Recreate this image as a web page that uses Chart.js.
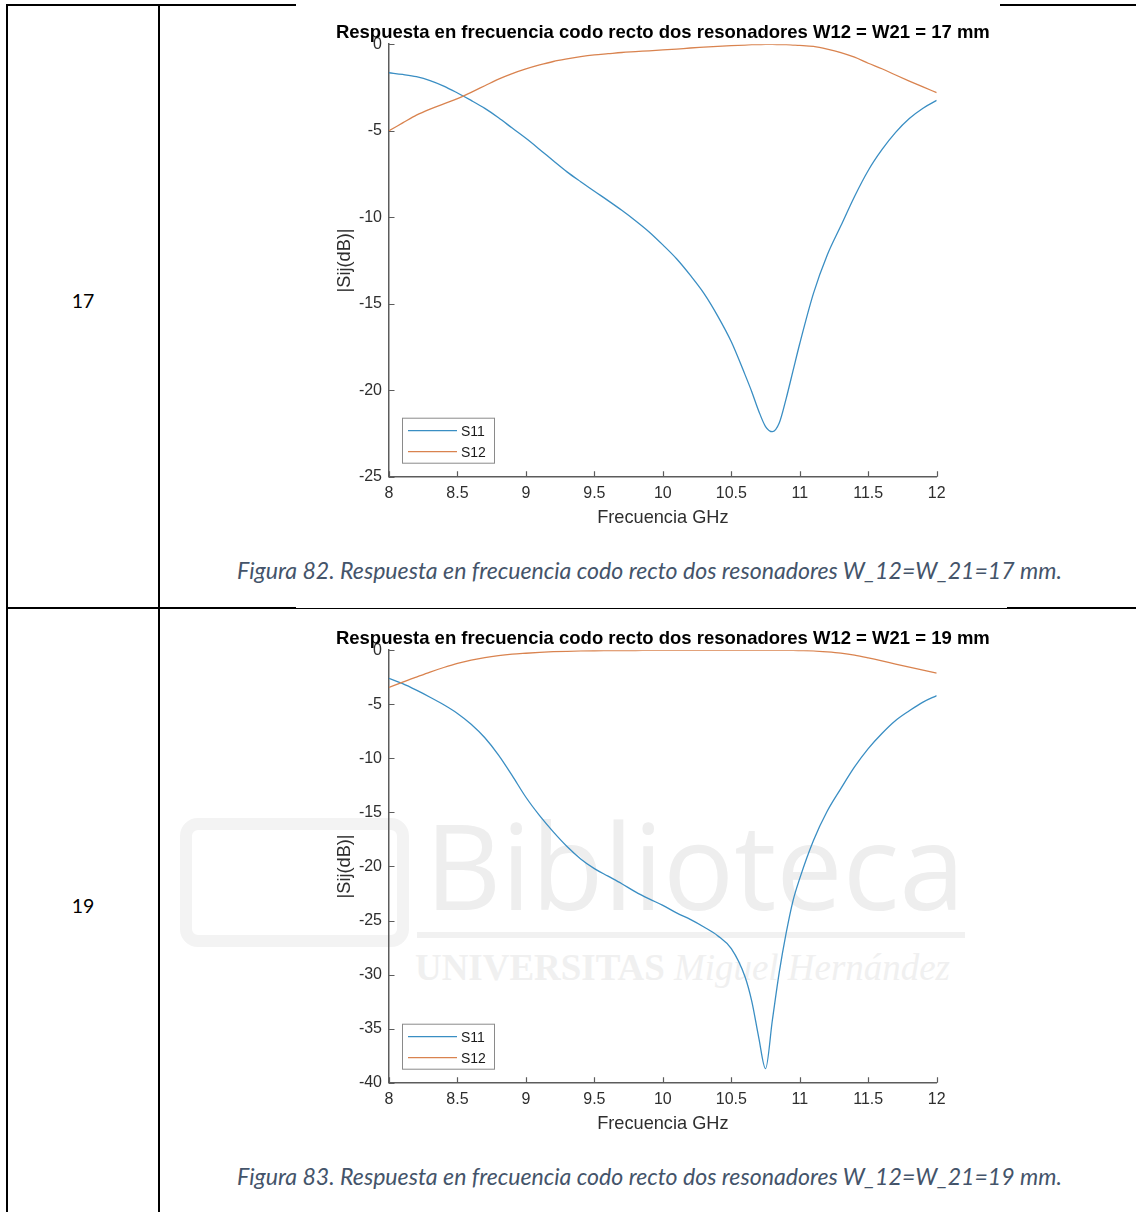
<!DOCTYPE html>
<html>
<head>
<meta charset="utf-8">
<script src="https://cdn.jsdelivr.net/npm/chart.js@4.4.0/dist/chart.umd.min.js"></script>
<style>
  html, body { margin: 0; padding: 0; background: #fff; }
  body { position: relative; width: 1136px; height: 1212px; overflow: hidden; font-family: Lato, "Open Sans", sans-serif; }
  .rule { position: absolute; background: #000; }
  .num { position: absolute; font-size: 19.5px; color: #000; transform: translate(-50%, -50%); }
  .caption { position: absolute; font-style: italic; font-size: 18px; color: #44546a; white-space: nowrap; transform: translate(-50%, -50%); }
  .wm { position: absolute; white-space: nowrap; line-height: 1; }
  canvas { position: absolute; left: 300px; }
</style>
</head>
<body>

<!-- table rules -->
<div class="rule" style="left:6px; top:4px; width:2px; height:1208px"></div>
<div class="rule" style="left:158px; top:4px; width:2px; height:1208px"></div>
<div class="rule" style="left:6px; top:4px; width:290px; height:2px"></div>
<div class="rule" style="left:1000px; top:4px; width:136px; height:2px"></div>
<div class="rule" style="left:6px; top:607px; width:290px; height:2px"></div>
<div class="rule" style="left:296px; top:608px; width:711px; height:1px"></div>
<div class="rule" style="left:1007px; top:607px; width:129px; height:2px"></div>

<div class="num" style="left:83px; top:300px">17</div>
<div class="num" style="left:83px; top:905px">19</div>

<!-- faint library watermark behind the second figure -->
<div class="wm" style="left:180px; top:818px; width:205px; height:105px; border:12px solid #f3f3f3; border-radius:18px;"></div>
<div class="wm" id="wmBig" style="left:425px; top:806px; font-family:'Open Sans'; font-size:118px; color:#eeeeee;">Biblioteca</div>
<div class="wm" style="left:417px; top:932px; width:548px; height:6px; background:#f1f1f1;"></div>
<div class="wm" id="wmSmall" style="left:415px; top:950px; font-family:'Liberation Serif'; font-size:32px; color:#f0f0f0;"><b>UNIVERSITAS</b> <i>Miguel Hernández</i></div>

<canvas id="chart17" width="720" height="540" style="top:10px"></canvas>
<canvas id="chart19" width="720" height="540" style="top:616px"></canvas>

<div class="caption" id="cap17" style="left:649.5px; top:570px">Figura 82. Respuesta en frecuencia codo recto dos resonadores W_12=W_21=17 mm.</div>
<div class="caption" id="cap19" style="left:649.5px; top:1176px">Figura 83. Respuesta en frecuencia codo recto dos resonadores W_12=W_21=19 mm.</div>

<script>
// frequency grid (GHz), denser around the resonance
const freq = [8.0, 8.1, 8.2, 8.3, 8.4, 8.5, 8.6, 8.7, 8.8, 8.9,
    9.0, 9.1, 9.2, 9.3, 9.4, 9.5, 9.6, 9.7, 9.8, 9.9,
    10.0, 10.1, 10.2, 10.3, 10.4, 10.5, 10.6, 10.65, 10.7, 10.75,
    10.8, 10.85, 10.9, 10.95, 11.0, 11.1, 11.2, 11.3, 11.4, 11.5,
    11.6, 11.7, 11.8, 11.9, 12.0];

// W12 = W21 = 17 mm
const s11W17 = [-1.65, -1.75, -1.88, -2.1, -2.42, -2.82, -3.25, -3.71, -4.25, -4.85,
    -5.44, -6.08, -6.74, -7.38, -7.95, -8.5, -9.04, -9.6, -10.2, -10.85,
    -11.6, -12.4, -13.35, -14.4, -15.7, -17.2, -19.1, -20.1, -21.2, -22.1,
    -22.4, -21.9, -20.5, -18.9, -17.3, -14.4, -12.2, -10.5, -8.8, -7.3,
    -6.1, -5.1, -4.3, -3.7, -3.25];
const s12W17 = [-5.0, -4.55, -4.1, -3.75, -3.45, -3.15, -2.78, -2.4, -2.02, -1.7,
    -1.43, -1.2, -1.0, -0.85, -0.72, -0.62, -0.55, -0.48, -0.43, -0.38,
    -0.33, -0.28, -0.22, -0.17, -0.12, -0.08, -0.05, -0.03, -0.02, -0.01,
    -0.01, -0.02, -0.03, -0.05, -0.07, -0.13, -0.28, -0.48, -0.75, -1.1,
    -1.42, -1.78, -2.13, -2.47, -2.8];

// W12 = W21 = 19 mm
const s11W19 = [-2.6, -3.1, -3.7, -4.35, -5.05, -5.85, -6.85, -8.1, -9.7, -11.6,
    -13.6, -15.3, -16.8, -18.15, -19.3, -20.2, -20.9, -21.6, -22.35, -23.0,
    -23.6, -24.3, -24.9, -25.6, -26.4, -27.6, -30.2, -32.5, -35.8, -38.7,
    -34.2, -29.8, -26.2, -23.2, -21.1, -17.6, -14.9, -12.8, -10.8, -9.1,
    -7.7, -6.5, -5.6, -4.8, -4.2];
const s12W19 = [-3.45, -2.95, -2.48, -2.02, -1.6, -1.22, -0.92, -0.68, -0.5, -0.37,
    -0.28, -0.2, -0.14, -0.1, -0.07, -0.05, -0.04, -0.03, -0.03, -0.02,
    -0.02, -0.02, -0.01, -0.01, -0.01, -0.01, -0.01, -0.01, -0.01, -0.01,
    -0.01, -0.02, -0.02, -0.02, -0.03, -0.06, -0.15, -0.27, -0.45, -0.7,
    -0.98, -1.28, -1.57, -1.85, -2.13];

const seriesLabels = ['S11', 'S12'];
const seriesColors = ['#3a8ec3', '#d9834f'];
const xRange = [8, 12];
const xStep = 0.5;
const yStep = 5;

const axisColor = '#5c5c5c';
const tickColor = '#2e2e2e';
const FONT = '"Liberation Sans", Arial, sans-serif';

// plot box inside each 720x540 canvas
const area = { left: 89, top: 34.2, right: 636.7, bottom: 466.7 };
const W = 720, H = 540;
const titleSize = 18.5, tickSize = 16, labelSize = 18.2;
const yTitleX = 45, xTitleY = 508, titleY = 23;

// MATLAB-like inward tick marks
const inwardTicks = {
    id: 'inwardTicks',
    afterDatasetsDraw(chart) {
        const { ctx, chartArea, scales: { x, y } } = chart;
        ctx.save();
        ctx.strokeStyle = axisColor;
        ctx.lineWidth = 1.2;
        ctx.beginPath();
        x.ticks.forEach(t => {
            const px = Math.round(x.getPixelForValue(t.value)) + 0.5;
            ctx.moveTo(px, chartArea.bottom);
            ctx.lineTo(px, chartArea.bottom - 5.5);
        });
        y.ticks.forEach(t => {
            const py = Math.round(y.getPixelForValue(t.value)) + 0.5;
            ctx.moveTo(chartArea.left, py);
            ctx.lineTo(chartArea.left + 5.5, py);
        });
        ctx.stroke();
        ctx.restore();
    }
};

// title centred over the axes, like MATLAB does it
const axesTitle = {
    id: 'axesTitle',
    afterDraw(chart, args, opts) {
        const { ctx, chartArea } = chart;
        ctx.save();
        ctx.font = 'bold ' + titleSize + 'px ' + FONT;
        ctx.fillStyle = '#000';
        ctx.textAlign = 'center';
        ctx.textBaseline = 'middle';
        ctx.fillText(opts.text, (chartArea.left + chartArea.right) / 2, titleY);
        ctx.restore();
    }
};

// boxed legend in the lower left corner of the axes
const boxLegend = {
    id: 'boxLegend',
    afterDatasetsDraw(chart) {
        const { ctx, chartArea } = chart;
        const bw = 92, bh = 45;
        const bx = chartArea.left + 13;
        const by = chartArea.bottom - 14 - bh;
        ctx.save();
        ctx.fillStyle = '#fff';
        ctx.fillRect(bx, by, bw, bh);
        ctx.strokeStyle = '#8a8a8a';
        ctx.lineWidth = 1;
        ctx.strokeRect(bx + 0.5, by + 0.5, bw, bh);
        ctx.font = '14px ' + FONT;
        ctx.textBaseline = 'middle';
        chart.data.datasets.forEach((ds, i) => {
            const ly = by + 13 + i * 21;
            ctx.strokeStyle = ds.borderColor;
            ctx.lineWidth = 1.3;
            ctx.beginPath();
            ctx.moveTo(bx + 6, ly);
            ctx.lineTo(bx + 55, ly);
            ctx.stroke();
            ctx.fillStyle = '#1a1a1a';
            ctx.fillText(ds.label, bx + 59, ly + 1);
        });
        ctx.restore();
    }
};

function makeChart(id, s11, s12, yMin, titleText) {
    const yTitleOffset = labelSize * 1.2 / 2 + 4;
    const padLeft = yTitleX - yTitleOffset;
    const xScaleBottom = xTitleY + labelSize * 1.2 / 2 + 4;

    const ctx = document.getElementById(id).getContext('2d');
    return new Chart(ctx, {
        type: 'line',
        data: {
            datasets: [s11, s12].map((vals, i) => ({
                label: seriesLabels[i],
                data: freq.map((f, j) => ({ x: f, y: vals[j] })),
                borderColor: seriesColors[i],
                borderWidth: 1.3,
                pointRadius: 0,
                cubicInterpolationMode: 'monotone',
                order: 1 - i
            }))
        },
        options: {
            responsive: false,
            animation: false,
            events: [],
            layout: {
                padding: { left: padLeft, right: W - area.right, top: area.top, bottom: H - xScaleBottom }
            },
            plugins: {
                legend: { display: false },
                tooltip: { enabled: false },
                title: { display: false },
                axesTitle: { text: titleText }
            },
            scales: {
                x: {
                    type: 'linear',
                    min: xRange[0],
                    max: xRange[1],
                    ticks: {
                        stepSize: xStep, color: tickColor, padding: 7, maxRotation: 0,
                        font: { family: FONT, size: tickSize },
                        callback: v => String(v)
                    },
                    grid: { display: false, drawTicks: false },
                    border: { display: true, color: axisColor, width: 1.5 },
                    title: { display: true, text: 'Frecuencia GHz', color: tickColor, font: { family: FONT, size: labelSize } },
                    afterFit(scale) { scale.height = xScaleBottom - area.bottom; }
                },
                y: {
                    min: yMin,
                    max: 0,
                    ticks: {
                        stepSize: yStep, color: tickColor, padding: 7,
                        font: { family: FONT, size: tickSize },
                        callback: v => String(v)
                    },
                    grid: { display: false, drawTicks: false },
                    border: { display: true, color: axisColor, width: 1.5 },
                    title: { display: true, text: '|Sij(dB)|', color: tickColor, font: { family: FONT, size: labelSize } },
                    afterFit(scale) { scale.width = area.left - padLeft; }
                }
            }
        },
        plugins: [inwardTicks, boxLegend, axesTitle]
    });
}

makeChart('chart17', s11W17, s12W17, -25, 'Respuesta en frecuencia codo recto dos resonadores W12 = W21 = 17 mm');
makeChart('chart19', s11W19, s12W19, -40, 'Respuesta en frecuencia codo recto dos resonadores W12 = W21 = 19 mm');

// stretch the caption and watermark text to the widths seen in the page
function fitWidth(id, target) {
    const el = document.getElementById(id);
    const size = parseFloat(getComputedStyle(el).fontSize);
    el.style.fontSize = (size * target / el.getBoundingClientRect().width) + 'px';
}
fitWidth('cap17', 825);
fitWidth('cap19', 825);
fitWidth('wmBig', 540);
fitWidth('wmSmall', 535);
</script>
</body>
</html>
